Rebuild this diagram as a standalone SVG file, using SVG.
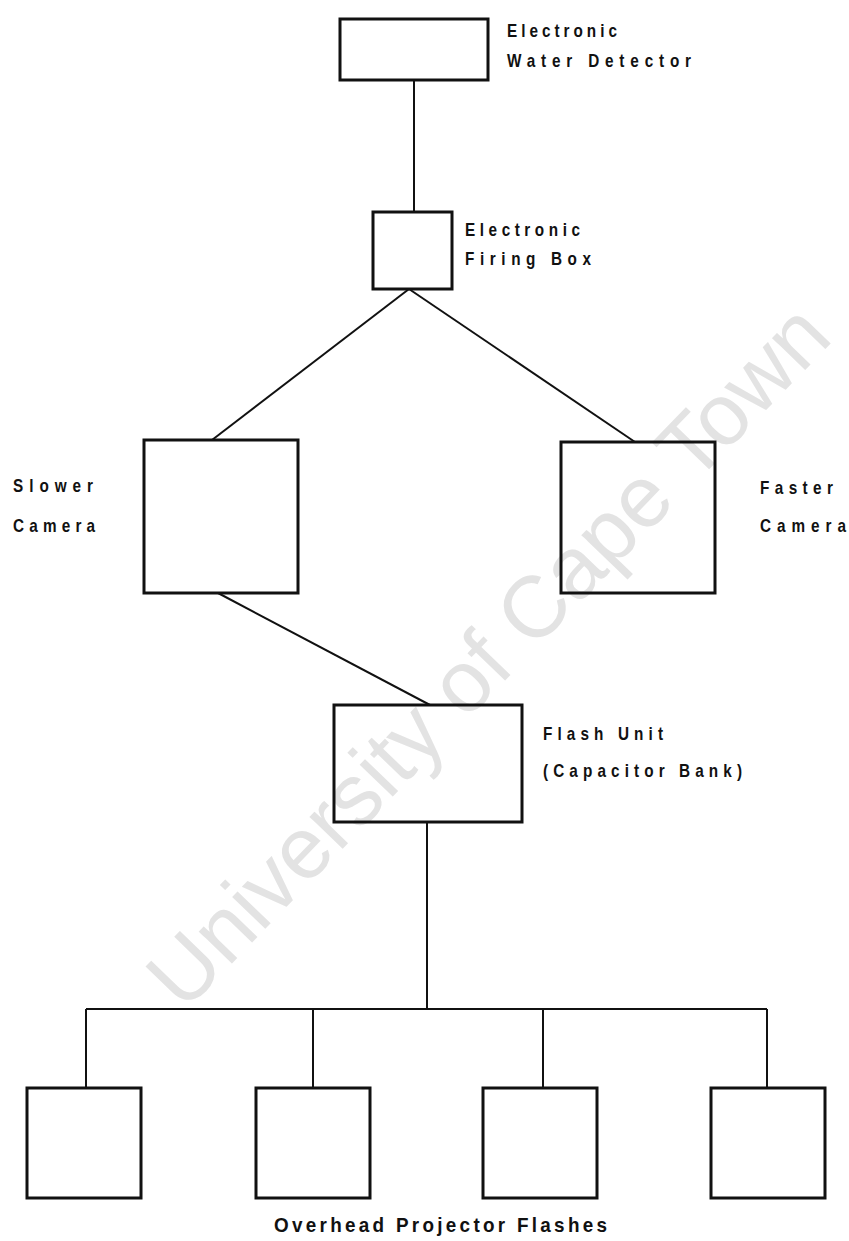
<svg xmlns="http://www.w3.org/2000/svg" width="849" height="1241" viewBox="0 0 849 1241">
<style>
.box{fill:none;stroke:#111;stroke-width:3}
.ln{fill:none;stroke:#111;stroke-width:2}
.lbl{font-family:"Liberation Sans","Arial",sans-serif;font-weight:bold;font-size:18px;fill:#111}
.wm{font-family:"Liberation Sans","Arial",sans-serif;font-size:87px;fill:#e3e3e3}
</style>
<rect width="849" height="1241" fill="#fff"/>
<g id="watermark">
<text class="wm" x="184" y="1013" transform="rotate(-46 184 1013)">University of Cape Town</text>
</g>
<g id="connectors">
<line class="ln" x1="414" y1="80" x2="414" y2="212"/>
<line class="ln" x1="409" y1="289" x2="212" y2="440"/>
<line class="ln" x1="409" y1="289" x2="635" y2="442"/>
<line class="ln" x1="218" y1="593" x2="430" y2="705"/>
<line class="ln" x1="427" y1="822" x2="427" y2="1009"/>
<line class="ln" x1="86" y1="1009" x2="767" y2="1009"/>
<line class="ln" x1="86" y1="1009" x2="86" y2="1088"/>
<line class="ln" x1="313" y1="1009" x2="313" y2="1088"/>
<line class="ln" x1="543" y1="1009" x2="543" y2="1088"/>
<line class="ln" x1="767" y1="1009" x2="767" y2="1088"/>
</g>
<g id="water-detector">
<rect class="box" x="340" y="19" width="148" height="61"/>
<text class="lbl" transform="translate(507 37) scale(0.85 1)" textLength="129.4" lengthAdjust="spacing">Electronic</text>
<text class="lbl" transform="translate(507 67) scale(0.85 1)" textLength="216.5" lengthAdjust="spacing">Water Detector</text>
</g>
<g id="firing-box">
<rect class="box" x="373" y="212" width="79" height="77"/>
<text class="lbl" transform="translate(465 236) scale(0.85 1)" textLength="135.3" lengthAdjust="spacing">Electronic</text>
<text class="lbl" transform="translate(465 265) scale(0.85 1)" textLength="148.2" lengthAdjust="spacing">Firing Box</text>
</g>
<g id="slower-camera">
<rect class="box" x="144" y="440" width="154" height="153"/>
<text class="lbl" transform="translate(13 492) scale(0.85 1)" textLength="94.1" lengthAdjust="spacing">Slower</text>
<text class="lbl" transform="translate(13 532) scale(0.85 1)" textLength="96.5" lengthAdjust="spacing">Camera</text>
</g>
<g id="faster-camera">
<rect class="box" x="561" y="442" width="154" height="151"/>
<text class="lbl" transform="translate(760 494) scale(0.85 1)" textLength="85.9" lengthAdjust="spacing">Faster</text>
<text class="lbl" transform="translate(760 532) scale(0.85 1)" textLength="101.2" lengthAdjust="spacing">Camera</text>
</g>
<g id="flash-unit">
<rect class="box" x="334" y="705" width="188" height="117"/>
<text class="lbl" transform="translate(543 740) scale(0.85 1)" textLength="141.2" lengthAdjust="spacing">Flash Unit</text>
<text class="lbl" transform="translate(543 777) scale(0.85 1)" textLength="234.1" lengthAdjust="spacing">(Capacitor Bank)</text>
</g>
<g id="flash-1"><rect class="box" x="27" y="1088" width="114" height="110"/></g>
<g id="flash-2"><rect class="box" x="256" y="1088" width="114" height="110"/></g>
<g id="flash-3"><rect class="box" x="483" y="1088" width="114" height="110"/></g>
<g id="flash-4"><rect class="box" x="711" y="1088" width="114" height="110"/></g>
<g id="flashes-label">
<text class="lbl" transform="translate(274 1232) scale(0.9 1)" textLength="370" lengthAdjust="spacing" style="font-size:21px">Overhead Projector Flashes</text>
</g>
</svg>
